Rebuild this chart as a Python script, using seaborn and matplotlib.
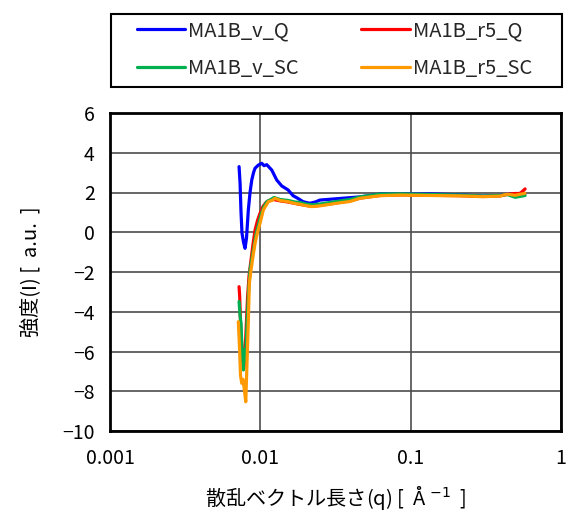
import numpy as np
import pandas as pd
import seaborn as sns
import matplotlib.pyplot as plt
from matplotlib.patches import Rectangle

# scattering vector q [1/A] and intensity I [a.u.]
q_v_q = [0.00722, 0.00733, 0.00744, 0.00755, 0.00773, 0.00791, 0.00809, 0.00832, 0.00854, 0.00877,
         0.00901, 0.00922, 0.00970, 0.01022, 0.01058, 0.01103, 0.01191, 0.01285, 0.01388, 0.01529,
         0.01651, 0.01781, 0.01923, 0.02035, 0.02141, 0.02311, 0.02496, 0.02909, 0.03661, 0.04607,
         0.06258, 0.08502, 0.1346, 0.2132, 0.3031, 0.3933, 0.4379, 0.4950, 0.5510, 0.5770]
i_v_q = [3.30, 2.48, 1.00, -0.04, -0.50, -0.81, -0.30, 1.12, 2.00, 2.63,
         3.00, 3.22, 3.38, 3.47, 3.35, 3.40, 3.13, 2.63, 2.33, 2.13,
         1.84, 1.70, 1.54, 1.49, 1.46, 1.52, 1.62, 1.66, 1.72, 1.78,
         1.92, 1.92, 1.93, 1.88, 1.82, 1.85, 1.92, 1.90, 1.98, 1.95]

q_r5_q = [0.00722, 0.00729, 0.00738, 0.00750, 0.00761, 0.00773, 0.00785, 0.00803, 0.00822, 0.00841,
          0.00867, 0.00894, 0.00922, 0.00958, 0.00995, 0.01042, 0.01091, 0.01143, 0.01215, 0.01352,
          0.01529, 0.01702, 0.01837, 0.01984, 0.02198, 0.02496, 0.03224, 0.03953, 0.04607, 0.06258,
          0.08502, 0.1346, 0.2132, 0.3031, 0.3933, 0.4379, 0.4950, 0.5345, 0.5770]
i_r5_q = [-2.74, -3.24, -4.50, -5.50, -6.20, -6.90, -6.60, -5.00, -3.30, -2.20,
          -1.40, -0.60, 0.10, 0.60, 0.95, 1.30, 1.50, 1.60, 1.65, 1.58,
          1.52, 1.45, 1.40, 1.36, 1.30, 1.35, 1.48, 1.58, 1.72, 1.85,
          1.88, 1.86, 1.84, 1.80, 1.83, 1.90, 1.95, 1.95, 2.18]

q_v_sc = [0.00722, 0.00733, 0.00744, 0.00755, 0.00771, 0.00785, 0.00797, 0.00816, 0.00835, 0.00854,
          0.00880, 0.00908, 0.00936, 0.00973, 0.01011, 0.01058, 0.01108, 0.01160, 0.01233, 0.01352,
          0.01529, 0.01702, 0.01837, 0.01984, 0.02198, 0.02496, 0.03224, 0.03953, 0.04607, 0.06258,
          0.08502, 0.1346, 0.2132, 0.3031, 0.3933, 0.4379, 0.4950, 0.5510, 0.5770]
i_v_sc = [-3.49, -4.20, -4.60, -5.90, -6.93, -5.90, -6.50, -4.50, -3.00, -1.90,
          -1.30, -0.70, -0.10, 0.40, 0.90, 1.30, 1.55, 1.62, 1.75, 1.65,
          1.60, 1.52, 1.50, 1.43, 1.38, 1.42, 1.55, 1.65, 1.78, 1.92,
          1.93, 1.90, 1.87, 1.82, 1.85, 1.90, 1.76, 1.82, 1.85]

q_r5_sc = [0.00714, 0.00727, 0.00738, 0.00752, 0.00767, 0.00785, 0.00800, 0.00816, 0.00832, 0.00845,
           0.00867, 0.00894, 0.00922, 0.00958, 0.00995, 0.01047, 0.01091, 0.01130, 0.01196, 0.01252,
           0.01352, 0.01529, 0.01702, 0.01837, 0.01984, 0.02198, 0.02496, 0.03224, 0.03953, 0.04607,
           0.06258, 0.08502, 0.1346, 0.2132, 0.3031, 0.3933, 0.4379, 0.4950, 0.5510, 0.5770]
i_r5_sc = [-4.50, -5.80, -7.20, -7.60, -7.40, -8.00, -8.53, -6.50, -4.50, -2.57,
           -1.90, -1.20, -0.56, 0.00, 0.45, 1.12, 1.35, 1.54, 1.60, 1.71,
           1.60, 1.54, 1.45, 1.41, 1.35, 1.29, 1.33, 1.46, 1.55, 1.71,
           1.84, 1.87, 1.85, 1.83, 1.79, 1.82, 1.92, 1.86, 1.93, 1.96]

series = {"MA1B_v_Q": (q_v_q, i_v_q),
          "MA1B_r5_Q": (q_r5_q, i_r5_q),
          "MA1B_v_SC": (q_v_sc, i_v_sc),
          "MA1B_r5_SC": (q_r5_sc, i_r5_sc)}
colors = {"MA1B_v_Q": "#0000ff", "MA1B_r5_Q": "#ff0000",
          "MA1B_v_SC": "#00b050", "MA1B_r5_SC": "#ff9900"}
x_ticks = [0.001, 0.01, 0.1, 1]
x_ticklabels = ["0.001", "0.01", "0.1", "1"]
y_ticks = list(range(-10, 7, 2))

frames = []
for name, (q, i) in series.items():
    frames.append(pd.DataFrame({"q": q, "I": i, "sample": name}))
df = pd.concat(frames, ignore_index=True)

sns.set_theme(style="white")
plt.rcParams["font.family"] = ["Noto Sans CJK JP", "DejaVu Sans"]
plt.rcParams["axes.unicode_minus"] = True

W, H = 567, 513
fig = plt.figure(figsize=(W / 100, H / 100), dpi=100)
ax = fig.add_axes([110 / W, 1 - 431 / H, 451 / W, 318 / H])

sns.lineplot(data=df, x="q", y="I", hue="sample", hue_order=list(series.keys()),
             palette=colors, sort=False, estimator=None, units="sample",
             linewidth=2.3, ax=ax)

ax.set_xscale("log")
ax.set_xlim(0.001, 1)
ax.set_ylim(-10, 6)
ax.set_xticks(x_ticks)
ax.set_xticklabels(x_ticklabels)
ax.minorticks_off()
ax.set_yticks(y_ticks)
ax.tick_params(length=0, labelsize=14, colors="black")
ax.tick_params(axis="x", pad=12)
ax.tick_params(axis="y", pad=11)
ax.grid(True, color="#4d4d4d", linewidth=1.2)
for s in ax.spines.values():
    s.set_color("black")
    s.set_linewidth(2)

ax.set_xlabel("散乱ベクトル長さ(q) [  Å $^{-1}$  ]", fontsize=14.5, labelpad=11, color="black")
ax.set_ylabel("強度(I) [  a.u.  ]", fontsize=14.5, labelpad=15, color="black")

handles, labels = ax.get_legend_handles_labels()
ax.get_legend().remove()
lookup = dict(zip(labels, handles))
order = ["MA1B_v_Q", "MA1B_v_SC", "MA1B_r5_Q", "MA1B_r5_SC"]
fig.legend([lookup[k] for k in order], order, loc="upper left",
           bbox_to_anchor=(137 / W, 1 - 20 / H), ncol=2, frameon=False,
           fontsize=14.5, handlelength=2.4, handletextpad=0.15,
           columnspacing=3.1, labelspacing=0.85, borderpad=0, borderaxespad=0)
fig.patches.append(Rectangle((111 / W, 1 - 87 / H), 451 / W, 73 / H,
                             transform=fig.transFigure, fill=False,
                             edgecolor="black", linewidth=1.5))

fig.savefig("out.png", dpi=100)
